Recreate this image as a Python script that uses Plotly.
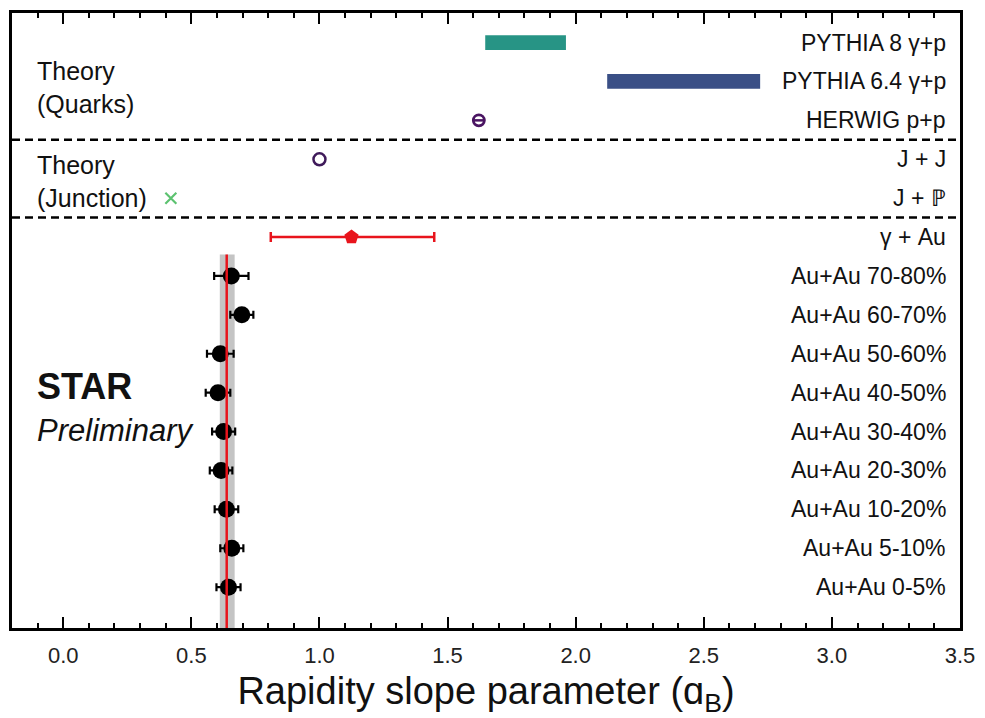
import plotly.graph_objects as go

# ---- data ----
row_labels = ["Au+Au 0-5%", "Au+Au 5-10%", "Au+Au 10-20%", "Au+Au 20-30%", "Au+Au 30-40%",
              "Au+Au 40-50%", "Au+Au 50-60%", "Au+Au 60-70%", "Au+Au 70-80%",
              "γ + Au", "J + ℙ", "J + J", "HERWIG p+p", "PYTHIA 6.4 γ+p", "PYTHIA 8 γ+p"]
row_pos = list(range(len(row_labels)))

auau_rows = [0, 1, 2, 3, 4, 5, 6, 7, 8]
auau_alpha = [0.645, 0.658, 0.637, 0.616, 0.626, 0.604, 0.613, 0.697, 0.656]
auau_err = [0.047, 0.045, 0.046, 0.044, 0.045, 0.048, 0.052, 0.045, 0.067]

gamma_au_row = [9]
gamma_au_alpha = [1.125]
gamma_au_err_minus = [0.315]
gamma_au_err_plus = [0.323]

jp_row = [10]
jp_alpha = [0.42]
jj_row = [11]
jj_alpha = [1.0]
herwig_row = [12]
herwig_alpha = [1.622]

pythia64_row = [13]
pythia64_lo = [2.123]
pythia64_hi = [2.72]
pythia8_row = [14]
pythia8_lo = [1.647]
pythia8_hi = [1.962]

band_mean = 0.638
band_lo = 0.611
band_hi = 0.669
band_top = 8.55

separators = [9.5, 11.5]

x_ticks = [0.0, 0.5, 1.0, 1.5, 2.0, 2.5, 3.0, 3.5]
x_range = [-0.2, 3.5]
y_range = [-1.05, 14.76]

FONT = "Liberation Sans, Arial, Helvetica, sans-serif"

fig = go.Figure()

# grey systematic band + mean line
fig.add_shape(type="rect", x0=band_lo, x1=band_hi, y0=y_range[0], y1=band_top,
              fillcolor="#c4c4c4", line_width=0, layer="below")
fig.add_shape(type="line", x0=band_mean, x1=band_mean, y0=y_range[0], y1=band_top,
              line=dict(color="#e8141c", width=2.5))

# separators
for s in separators:
    fig.add_shape(type="line", xref="paper", x0=0, x1=1, y0=s, y1=s,
                  line=dict(color="black", width=2.5, dash="8px,5px"))

# PYTHIA bars
fig.add_trace(go.Bar(y=pythia8_row, x=[h - l for h, l in zip(pythia8_hi, pythia8_lo)],
                     base=pythia8_lo, orientation="h", width=0.38,
                     marker=dict(color="#279485", line_width=0), showlegend=False))
fig.add_trace(go.Bar(y=pythia64_row, x=[h - l for h, l in zip(pythia64_hi, pythia64_lo)],
                     base=pythia64_lo, orientation="h", width=0.38,
                     marker=dict(color="#3a4f86", line_width=0), showlegend=False))

# HERWIG (theta symbol)
fig.add_trace(go.Scatter(x=herwig_alpha, y=herwig_row, mode="markers",
                         marker=dict(symbol="circle-open", size=11, color="#4a1562",
                                     line=dict(width=2.8, color="#4a1562")), showlegend=False))
fig.add_trace(go.Scatter(x=herwig_alpha, y=herwig_row, mode="markers",
                         marker=dict(symbol="line-ew", size=9, color="#4a1562",
                                     line=dict(width=2.5, color="#4a1562")), showlegend=False))
# J+J
fig.add_trace(go.Scatter(x=jj_alpha, y=jj_row, mode="markers",
                         marker=dict(symbol="circle-open", size=12, color="#3f1a5a",
                                     line=dict(width=2.5, color="#3f1a5a")), showlegend=False))
# J+P
fig.add_trace(go.Scatter(x=jp_alpha, y=jp_row, mode="markers",
                         marker=dict(symbol="x-thin-open", size=11, color="#5cc270",
                                     line=dict(width=2.2, color="#5cc270")), showlegend=False))
# gamma + Au
fig.add_trace(go.Scatter(x=gamma_au_alpha, y=gamma_au_row, mode="markers",
                         error_x=dict(type="data", symmetric=False, array=gamma_au_err_plus,
                                      arrayminus=gamma_au_err_minus, color="#e8141c",
                                      thickness=2.5, width=5),
                         marker=dict(symbol="pentagon", size=15, color="#e8141c"),
                         showlegend=False))
# Au+Au
fig.add_trace(go.Scatter(x=auau_alpha, y=auau_rows, mode="markers",
                         error_x=dict(type="data", array=auau_err, color="black",
                                      thickness=2.2, width=4),
                         marker=dict(symbol="circle", size=17, color="black"),
                         showlegend=False))

# row labels
for lab, yp in zip(row_labels, row_pos):
    fig.add_annotation(x=3.452, y=yp, text=lab, showarrow=False, xanchor="right",
                       yanchor="middle", font=dict(family=FONT, size=23, color="#111"))

# left group labels
fig.add_annotation(x=-0.11, y=12.84, text="Theory<br>(Quarks)", showarrow=False, xanchor="left",
                   align="left", yanchor="middle", font=dict(family=FONT, size=25, color="#111"))
fig.add_annotation(x=-0.11, y=10.42, text="Theory<br>(Junction)", showarrow=False, xanchor="left",
                   align="left", yanchor="middle", font=dict(family=FONT, size=25, color="#111"))
fig.add_annotation(x=-0.11, y=5.17, text="<b>STAR</b>", showarrow=False, xanchor="left",
                   yanchor="middle", font=dict(family=FONT, size=36, color="#111"))
fig.add_annotation(x=-0.11, y=4.02, text="<i>Preliminary</i>", showarrow=False, xanchor="left",
                   yanchor="middle", font=dict(family=FONT, size=31, color="#111"))

fig.update_layout(
    width=985, height=718,
    margin=dict(l=12, r=17, t=10, b=90),
    paper_bgcolor="white", plot_bgcolor="white",
    barmode="overlay",
    xaxis=dict(range=x_range, tickvals=x_ticks, tickformat=".1f",
               ticks="inside", ticklen=11, tickwidth=2, tickcolor="black",
               minor=dict(dtick=0.1, tick0=0, ticks="inside", ticklen=5, tickwidth=1.5, tickcolor="black"),
               showline=True, linewidth=2.5, linecolor="black", mirror="ticks",
               showgrid=False, zeroline=False, ticklabelstandoff=6,
               tickfont=dict(family=FONT, size=22, color="#222"),
               title=dict(text="Rapidity slope parameter (ɑ<sub>B</sub>)", standoff=12,
                          font=dict(family=FONT, size=38, color="#111"))),
    yaxis=dict(range=y_range, showticklabels=False, ticks="", showgrid=False, zeroline=False,
               showline=True, linewidth=2.5, linecolor="black", mirror=True),
)

fig.write_html("out.html")
